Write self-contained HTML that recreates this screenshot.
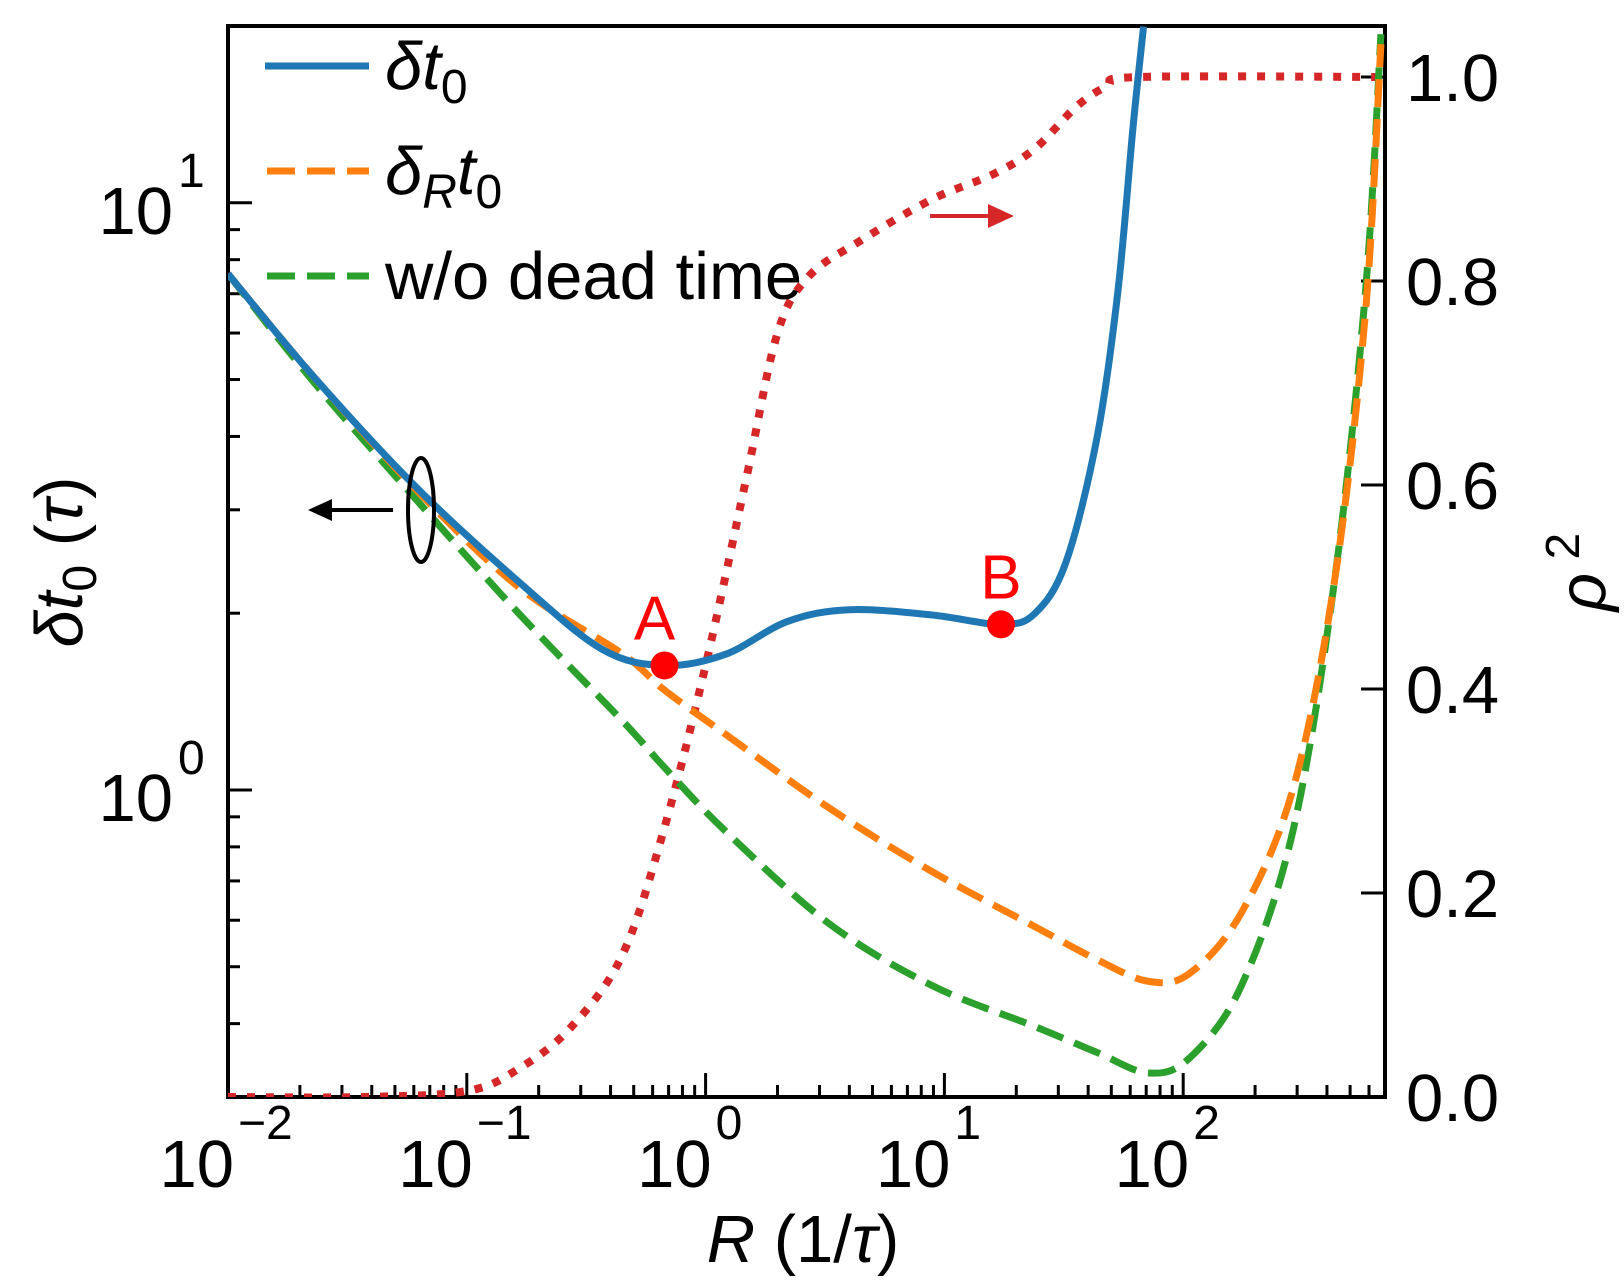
<!DOCTYPE html>
<html><head><meta charset="utf-8"><style>
html,body{margin:0;padding:0;background:#fff;}
svg{display:block;font-family:"Liberation Sans",sans-serif;}
</style></head><body>
<svg id="chart" width="1624" height="1288" viewBox="0 0 1624 1288" xmlns="http://www.w3.org/2000/svg">
<g id="axes"></g>
<g id="series"></g>
<g id="ann"></g>
</svg>
<script>
// Data (log10 of R and log10 of δt0)
const blueLogX=[-2,-1.646,-1.213,-0.781,-0.435,-0.172,0.083,0.343,0.602,0.948,1.237,1.380,1.510,1.639,1.726,1.790,1.834];
const blueLogY=[0.879,0.706,0.516,0.354,0.240,0.212,0.231,0.287,0.307,0.298,0.282,0.301,0.389,0.600,0.847,1.129,1.30];
const orangeLogX=[-2,-1.646,-1.213,-0.781,-0.349,-0.172,0.083,0.515,0.948,1.380,1.639,1.855,2.028,2.244,2.460,2.633,2.763,2.828];
const orangeLogY=[0.879,0.706,0.512,0.345,0.232,0.170,0.095,-0.030,-0.139,-0.233,-0.289,-0.326,-0.312,-0.209,0.002,0.354,0.812,1.270];
const greenLogX=[-2,-1.646,-1.213,-0.781,-0.349,-0.176,0.083,0.515,0.948,1.380,1.639,1.855,2.028,2.244,2.460,2.633,2.763,2.828];
const greenLogY=[0.879,0.697,0.495,0.300,0.118,0.040,-0.070,-0.227,-0.333,-0.403,-0.447,-0.482,-0.456,-0.333,-0.069,0.354,0.847,1.287];
const redLogX=[-2,-1.43,-0.997,-0.781,-0.565,-0.349,-0.176,0.0,0.170,0.300,0.430,0.645,0.948,1.207,1.380,1.553,1.682,1.812,2.845];
const redRho=[0,0,0.006,0.028,0.068,0.139,0.261,0.423,0.606,0.748,0.804,0.839,0.880,0.905,0.930,0.971,0.991,1.0,1.0];
const pointLabels=["A","B"];
const pointLogX=[-0.172,1.237];
const pointLogY=[0.212,0.282];
const xTickExp=[-2,-1,0,1,2];
const yTickExp=[0,1];
const rTicks=[0,0.2,0.4,0.6,0.8,1.0];
const rTickLabels=["0.0","0.2","0.4","0.6","0.8","1.0"];

const L=228,R=1385,T=26,B=1097;
const xMin=-2,xMax=Math.log10(700);
const yMin=Math.log10(0.3),yMax=Math.log10(20);
const rMin=0,rMax=1.05;
const sx=v=>L+(v-xMin)/(xMax-xMin)*(R-L);
const sy=v=>B-(v-yMin)/(yMax-yMin)*(B-T);
const sr=v=>B-(v-rMin)/(rMax-rMin)*(B-T);
const NS="http://www.w3.org/2000/svg";
function mk(tag,attrs,parent){const e=document.createElementNS(NS,tag);for(const k in attrs)e.setAttribute(k,attrs[k]);parent.appendChild(e);return e;}
const axes=document.getElementById('axes'),series=document.getElementById('series'),ann=document.getElementById('ann');

const defs=mk('defs',{},document.getElementById('chart'));
const cp=mk('clipPath',{id:'clip'},defs);mk('rect',{x:L,y:T,width:R-L,height:B-T},cp);
series.setAttribute('clip-path','url(#clip)');

// x ticks
for(let d=-2;d<=2;d++){for(let m=1;m<10;m++){const v=d+Math.log10(m);if(v>xMax)break;const x=sx(v);
 const t=mk('line',{x1:x,x2:x,y1:B,y2:B-(m===1?24:12),stroke:'#000','stroke-width':3},axes);
 }}
xTickExp.forEach(e=>{const x=sx(e);
 const t=mk('text',{x:x+6,y:1187,'font-size':67,'text-anchor':'end'},axes);t.textContent='10';
 
 const s=mk('text',{x:x+10,y:1139,'font-size':48,'text-anchor':'start'},axes);s.textContent=e<0?'\u2212'+(-e):String(e);
 });
// y ticks (left, log)
for(let d=-1;d<=1;d++){for(let m=1;m<10;m++){const v=d+Math.log10(m);if(v<yMin||v>yMax)continue;const y=sy(v);
 const t=mk('line',{x1:L,x2:L+(m===1?24:12),y1:y,y2:y,stroke:'#000','stroke-width':3},axes);
 }}
yTickExp.forEach(e=>{const y=sy(e);
 const t=mk('text',{x:173,y:y+31,'font-size':67,'text-anchor':'end'},axes);t.textContent='10';
 
 const s=mk('text',{x:178,y:y-16,'font-size':48,'text-anchor':'start'},axes);s.textContent=String(e);
 });
// right ticks
rTicks.forEach((v,i)=>{const y=sr(v);
 const t=mk('line',{x1:R,x2:R-24,y1:y,y2:y,stroke:'#000','stroke-width':3},axes);
 
 const l=mk('text',{x:1406,y:y+24,'font-size':67,'text-anchor':'start'},axes);l.textContent=rTickLabels[i];
 });
const fr=mk('rect',{x:L,y:T,width:R-L,height:B-T,fill:'none',stroke:'#000','stroke-width':4},axes);


function smooth(xs,ys,fy){const p=xs.map((v,i)=>[sx(v),fy(ys[i])]);let d='M'+p[0][0]+','+p[0][1];
 for(let i=0;i<p.length-1;i++){const p0=p[i-1]||p[i],p1=p[i],p2=p[i+1],p3=p[i+2]||p2;
 d+=` C${p1[0]+(p2[0]-p0[0])/6},${p1[1]+(p2[1]-p0[1])/6} ${p2[0]-(p3[0]-p1[0])/6},${p2[1]-(p3[1]-p1[1])/6} ${p2[0]},${p2[1]}`;}return d;}
let e;
e=mk('path',{d:smooth(redLogX,redRho,sr),fill:'none',stroke:'#d62728','stroke-width':8,'stroke-dasharray':'8 11'},series);

e=mk('path',{d:smooth(greenLogX,greenLogY,sy),fill:'none',stroke:'#2ca02c','stroke-width':7,'stroke-dasharray':'28 12'},series);

e=mk('path',{d:smooth(orangeLogX,orangeLogY,sy),fill:'none',stroke:'#ff7f0e','stroke-width':7,'stroke-dasharray':'28 12'},series);

e=mk('path',{d:smooth(blueLogX,blueLogY,sy),fill:'none',stroke:'#1f77b4','stroke-width':7},series);

pointLabels.forEach((lab,i)=>{const x=sx(pointLogX[i]),y=sy(pointLogY[i]);
 const c=mk('circle',{cx:x,cy:y,r:14,fill:'#ff0000'},ann);
 const t=mk('text',{x:x-(i?0:10),y:y-26,'font-size':62,fill:'#ff0000','text-anchor':'middle'},ann);t.textContent=lab;
 });
</script>
<svg style="position:absolute;left:0;top:0" width="1624" height="1288">
 <g font-family="Liberation Sans, sans-serif" font-size="67">
  <line x1="265" y1="66" x2="369" y2="66" stroke="#1f77b4" stroke-width="7"/>
  <text x="385" y="89"><tspan font-style="italic">δt</tspan><tspan font-size="48" dy="14">0</tspan></text>
  <line x1="267" y1="171" x2="369" y2="171" stroke="#ff7f0e" stroke-width="7" stroke-dasharray="28 12"/>
  <text x="385" y="194"><tspan font-style="italic">δ</tspan><tspan font-size="48" dy="14" font-style="italic">R</tspan><tspan dy="-14" font-style="italic">t</tspan><tspan font-size="48" dy="14">0</tspan></text>
  <line x1="267" y1="276" x2="369" y2="276" stroke="#2ca02c" stroke-width="7" stroke-dasharray="28 12"/>
  <text x="385" y="299">w/o dead time</text>
 </g>
 <g>
  <line x1="393" y1="510" x2="325" y2="510" stroke="#000" stroke-width="4"/>
  <polygon points="308,510 332,499 332,521" fill="#000"/>
  <ellipse cx="421" cy="510" rx="13" ry="52" fill="none" stroke="#000" stroke-width="4"/>
 </g>
 <g>
  <line x1="930" y1="216" x2="995" y2="216" stroke="#d62728" stroke-width="4"/>
  <polygon points="1014,216 988,204 988,228" fill="#d62728"/>
 </g>
 <text x="803" y="1262" font-family="Liberation Sans, sans-serif" font-size="67" text-anchor="middle"><tspan font-style="italic">R</tspan> (1/<tspan font-style="italic">τ</tspan>)</text>
 <text transform="translate(82,562) rotate(-90)" font-family="Liberation Sans, sans-serif" font-size="67" text-anchor="middle"><tspan font-style="italic">δt</tspan><tspan font-size="48" dy="14">0</tspan><tspan dy="-14"> (</tspan><tspan font-style="italic">τ</tspan>)</text>
 <text transform="translate(1605,572) rotate(-90)" font-family="Liberation Sans, sans-serif" font-size="67" text-anchor="middle"><tspan font-style="italic">ρ</tspan><tspan font-size="48" dy="-26"> 2</tspan></text>
</svg>
</body></html>
